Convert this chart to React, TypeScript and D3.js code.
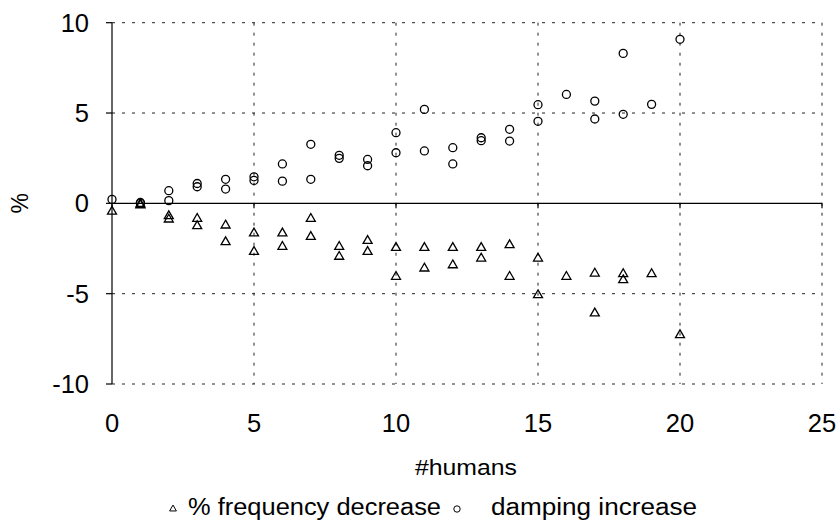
import React from "react";
import * as d3 from "d3";

const dampX = [0, 1, 1, 2, 2, 3, 3, 4, 4, 5, 5, 6, 6, 7, 7, 8, 8, 9, 9, 10, 10, 11, 11, 12, 12, 13, 13, 14, 14, 15, 15, 16, 17, 17, 18, 18, 19, 20];
const dampY = [0.22, 0.05, 0.0, 0.7, 0.15, 1.1, 0.92, 1.33, 0.79, 1.47, 1.27, 2.18, 1.23, 3.27, 1.33, 2.66, 2.49, 2.43, 2.08, 3.91, 2.8, 5.2, 2.9, 3.08, 2.18, 3.63, 3.47, 4.1, 3.45, 5.46, 4.54, 6.03, 5.66, 4.67, 8.3, 4.93, 5.48, 9.08];

const freqX = [0, 1, 1, 2, 2, 3, 3, 4, 4, 5, 5, 6, 6, 7, 7, 8, 8, 9, 9, 10, 10, 11, 11, 12, 12, 13, 13, 14, 14, 15, 15, 16, 17, 17, 18, 18, 19, 20];
const freqY = [-0.45, -0.05, -0.1, -0.7, -0.89, -0.85, -1.26, -1.22, -2.14, -1.66, -2.68, -1.66, -2.4, -0.85, -1.85, -2.4, -2.95, -2.07, -2.68, -2.46, -4.06, -2.46, -3.6, -2.46, -3.42, -2.46, -3.05, -2.31, -4.06, -3.05, -5.08, -4.06, -3.88, -6.09, -3.91, -4.25, -3.91, -7.29];

const xTicks = [0, 5, 10, 15, 20, 25];
const yTicks = [-10, -5, 0, 5, 10];
const xLabel = "#humans";
const yLabel = "%";
const seriesNames = ["% frequency decrease", "damping increase"];

const W = 837;
const H = 525;
const FONT = "'Liberation Sans', Arial, sans-serif";

export default function App() {
  const x = d3.scaleLinear().domain([0, 25]).range([112, 822]);
  const y = d3.scaleLinear().domain([-10, 10]).range([384, 22.7]);
  const triPath = d3.symbol().type(d3.symbolTriangle).size(35)() as string;
  const legTri = d3.symbol().type(d3.symbolTriangle).size(20)() as string;

  return (
    <svg width={W} height={H} style={{ position: "absolute", left: 0, top: 0 }} fontFamily={FONT}>
      <rect x={0} y={0} width={W} height={H} fill="#fff" />
      {xTicks.filter((t) => t !== 0).map((t) => (
        <line key={"gx" + t} x1={x(t)} x2={x(t)} y1={y(10)} y2={y(-10)} stroke="#222" strokeWidth={1} strokeDasharray="3,7" />
      ))}
      {yTicks.filter((t) => t !== 0).map((t) => (
        <line key={"gy" + t} x1={x(0)} x2={x(25)} y1={y(t)} y2={y(t)} stroke="#222" strokeWidth={1} strokeDasharray="3,7" />
      ))}
      <line x1={x(0)} x2={x(0)} y1={y(10)} y2={y(-10)} stroke="#000" strokeWidth={1.2} />
      <line x1={x(0)} x2={x(25)} y1={y(0)} y2={y(0)} stroke="#000" strokeWidth={1.2} />
      {yTicks.map((t) => (
        <g key={"yt" + t}>
          <line x1={x(0) - 6} x2={x(0)} y1={y(t)} y2={y(t)} stroke="#000" strokeWidth={1.2} />
          <text x={x(0) - 23} y={y(t)} textAnchor="end" dominantBaseline="central" fontSize={25.5}>{t}</text>
        </g>
      ))}
      {xTicks.map((t) => (
        <g key={"xt" + t}>
          <line x1={x(t)} x2={x(t)} y1={y(0)} y2={y(0) + 5} stroke="#000" strokeWidth={1.2} />
          <text x={x(t)} y={423} textAnchor="middle" dominantBaseline="central" fontSize={25.5}>{t}</text>
        </g>
      ))}
      <text x={466} y={467} textAnchor="middle" dominantBaseline="central" fontSize={22} textLength={102} lengthAdjust="spacingAndGlyphs">{xLabel}</text>
      <text transform={`translate(20,${y(0)}) rotate(-90)`} textAnchor="middle" dominantBaseline="central" fontSize={23}>{yLabel}</text>
      {dampX.map((v, i) => (
        <circle key={"c" + i} cx={x(v)} cy={y(dampY[i])} r={4} fill="none" stroke="#000" strokeWidth={1.3} />
      ))}
      {freqX.map((v, i) => (
        <path key={"t" + i} d={triPath} transform={`translate(${x(v)},${y(freqY[i])})`} fill="none" stroke="#000" strokeWidth={1.3} />
      ))}
      <g>
        <path d={legTri} transform="translate(173,509)" fill="none" stroke="#000" strokeWidth={1} />
        <text x={188} y={515} fontSize={23} textLength={253} lengthAdjust="spacingAndGlyphs">{seriesNames[0]}</text>
        <circle cx={457} cy={509} r={3.2} fill="none" stroke="#000" strokeWidth={1} />
        <text x={491} y={515} fontSize={23} textLength={206} lengthAdjust="spacingAndGlyphs">{seriesNames[1]}</text>
      </g>
    </svg>
  );
}
